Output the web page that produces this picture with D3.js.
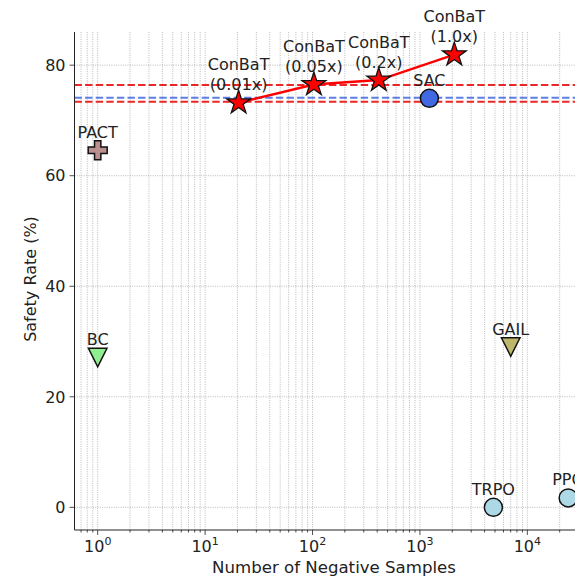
<!DOCTYPE html>
<html><head><meta charset="utf-8">
<script src="https://cdn.jsdelivr.net/npm/d3@7"></script>
<style>body{margin:0;background:#fff}svg{display:block;font-family:"DejaVu Sans",sans-serif}</style>
</head><body><svg id="c" width="575" height="578"></svg>
<script>
// ---- data ----
const conbatLabels = ["ConBaT\n(0.01x)", "ConBaT\n(0.05x)", "ConBaT\n(0.2x)", "ConBaT\n(1.0x)"];
const conbatX = [20.5, 103, 414, 2090];
const conbatY = [73.2, 76.5, 77.3, 81.9];

const baselineNames = ["SAC", "PACT", "BC", "GAIL", "TRPO", "PPO"];
const baselineX = [1225, 1, 1, 7000, 4830, 24000];
const baselineY = [74.0, 64.6, 27.1, 29.0, 0.0, 1.7];

const refLineValues = [76.4, 74.1, 73.4];
const yTicks = [0, 20, 40, 60, 80];
const xTickExps = [0, 1, 2, 3, 4];
const xLabel = "Number of Negative Samples";
const yLabel = "Safety Rate (%)";

// ---- styles ----
const markerStyle = {
  SAC: {shape: "circle", fill: "#4169e1"},
  PACT: {shape: "plus", fill: "#bc8f8f"},
  BC: {shape: "tri", fill: "#90ee90"},
  GAIL: {shape: "tri", fill: "#bdb76b"},
  TRPO: {shape: "circle", fill: "#add8e6"},
  PPO: {shape: "circle", fill: "#add8e6"}
};
const refLineColors = ["rgba(230,0,0,0.85)", "rgba(65,105,225,0.85)", "rgba(230,0,0,0.85)"];

const svg = d3.select("#c");
const L = 74.5, R = 592, T = 32, B = 530;
const x = d3.scaleLog().domain([Math.pow(10, -0.216), Math.pow(10, 4.602)]).range([L, R]);
const y = d3.scaleLinear().domain([-4.1, 86.0]).range([B, T]);

svg.append("clipPath").attr("id", "clip").append("rect")
  .attr("x", L).attr("y", T).attr("width", R - L).attr("height", B - T);

// grid
const gridG = svg.append("g");
const minorVals = [];
for (let e = -1; e <= 4; e++) for (let m = 1; m <= 9; m++) {
  const v = m * Math.pow(10, e);
  if (v >= x.domain()[0] && v <= x.domain()[1]) minorVals.push(v);
}
gridG.selectAll(".vg").data(minorVals).join("line")
  .attr("x1", d => x(d)).attr("x2", d => x(d)).attr("y1", T).attr("y2", B)
  .attr("stroke", "#aaaaaa").attr("stroke-width", 0.8).attr("stroke-dasharray", "1,1.3");
gridG.selectAll(".hg").data(yTicks).join("line")
  .attr("x1", L).attr("x2", R).attr("y1", d => y(d)).attr("y2", d => y(d))
  .attr("stroke", "#aaaaaa").attr("stroke-width", 0.8).attr("stroke-dasharray", "1,1.3");

// reference lines
svg.append("g").selectAll("line").data(refLineValues).join("line")
  .attr("x1", L).attr("x2", R).attr("y1", d => y(d)).attr("y2", d => y(d))
  .attr("stroke", (d, i) => refLineColors[i]).attr("stroke-width", 2)
  .attr("stroke-dasharray", "7.4,3.2");

// axes
const xAxis = svg.append("g").attr("transform", `translate(0,${B})`);
xAxis.append("line").attr("x1", L).attr("x2", R).attr("stroke", "#222").attr("stroke-width", 1);
xAxis.selectAll(".mt").data(minorVals).join("line")
  .attr("x1", d => x(d)).attr("x2", d => x(d)).attr("y1", 0)
  .attr("y2", d => (Math.abs(Math.log10(d) - Math.round(Math.log10(d))) < 1e-9 ? 5 : 2.5))
  .attr("stroke", "#222").attr("stroke-width", 0.8);
const xt = xAxis.selectAll(".xt").data(xTickExps).join("text")
  .attr("x", d => x(Math.pow(10, d))).attr("y", 21.5)
  .attr("text-anchor", "middle").attr("font-size", 16).attr("fill", "#222");
xt.append("tspan").text("10");
xt.append("tspan").attr("dy", -7).attr("font-size", 11).text(d => d);

svg.append("text").attr("x", 334).attr("y", 573).attr("text-anchor", "middle")
  .attr("font-size", 16.6).attr("fill", "#222").text(xLabel);

const yAxis = svg.append("g");
yAxis.append("line").attr("x1", L).attr("x2", L).attr("y1", T).attr("y2", B).attr("stroke", "#222").attr("stroke-width", 1);
yAxis.selectAll(".yt").data(yTicks).join("line")
  .attr("x1", L - 5).attr("x2", L).attr("y1", d => y(d)).attr("y2", d => y(d))
  .attr("stroke", "#222").attr("stroke-width", 0.8);
yAxis.selectAll(".ytl").data(yTicks).join("text")
  .attr("x", L - 9).attr("y", d => y(d)).attr("dy", "0.36em")
  .attr("text-anchor", "end").attr("font-size", 16).attr("fill", "#222").text(d => d);
svg.append("text").attr("transform", "translate(36,279) rotate(-90)").attr("text-anchor", "middle")
  .attr("font-size", 16).attr("fill", "#222").text(yLabel);

// markers
const plot = svg.append("g").attr("clip-path", "url(#clip)");
function starPath(r) {
  const pts = [];
  for (let i = 0; i < 10; i++) {
    const rr = i % 2 ? r * 0.382 : r;
    const a = -Math.PI / 2 + i * Math.PI / 5;
    pts.push([rr * Math.cos(a), rr * Math.sin(a)]);
  }
  return "M" + pts.map(p => p.join(",")).join("L") + "Z";
}
function plusPath(s) {
  const u = s / 6;
  const p = [[-1,-3],[1,-3],[1,-1],[3,-1],[3,1],[1,1],[1,3],[-1,3],[-1,1],[-3,1],[-3,-1],[-1,-1]];
  return "M" + p.map(q => [q[0]*u, q[1]*u].join(",")).join("L") + "Z";
}
function triPath(h) {
  return `M${-h},${-h}L${h},${-h}L0,${h}Z`;
}
const baseData = baselineNames.map((n, i) => ({name: n, x: baselineX[i], y: baselineY[i]}));
baseData.forEach(d => {
  const st = markerStyle[d.name];
  const cx = x(d.x), cy = y(d.y);
  let el;
  if (st.shape === "circle") el = plot.append("circle").attr("cx", cx).attr("cy", cy).attr("r", 9);
  else if (st.shape === "plus") el = plot.append("path").attr("d", plusPath(19)).attr("transform", `translate(${cx},${cy})`);
  else el = plot.append("path").attr("d", triPath(9.3)).attr("transform", `translate(${cx},${cy})`);
  el.attr("fill", st.fill).attr("stroke", "#111").attr("stroke-width", 1.5);
});

const conData = conbatLabels.map((l, i) => ({label: l, x: conbatX[i], y: conbatY[i]}));
plot.append("path").datum(conData)
  .attr("d", d3.line().x(d => x(d.x)).y(d => y(d.y)))
  .attr("fill", "none").attr("stroke", "#ff0000").attr("stroke-width", 2.5);
plot.selectAll(".star").data(conData).join("path")
  .attr("d", starPath(12.5)).attr("transform", d => `translate(${x(d.x)},${y(d.y)})`)
  .attr("fill", "#ff0000").attr("stroke", "#111").attr("stroke-width", 1.3);

// labels
const lab = svg.append("g").attr("font-size", 16).attr("fill", "#222").attr("text-anchor", "middle");
baseData.forEach(d => {
  lab.append("text").attr("x", x(d.x)).attr("y", y(d.y) - 12.5).text(d.name);
});
conData.forEach(d => {
  const lines = d.label.split("\n");
  const t = lab.append("text").attr("x", x(d.x)).attr("y", y(d.y) - 12.5 - 20 * (lines.length - 1));
  lines.forEach((ln, i) => t.append("tspan").attr("x", x(d.x)).attr("dy", i ? 20 : 0).text(ln));
});
</script></body></html>
